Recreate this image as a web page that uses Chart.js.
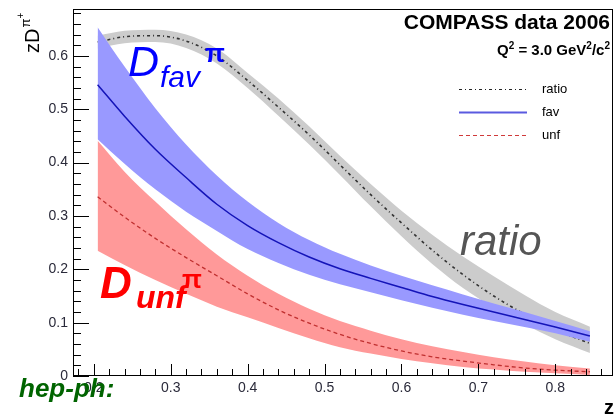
<!DOCTYPE html>
<html>
<head>
<meta charset="utf-8">
<script src="https://cdn.jsdelivr.net/npm/chart.js@4.4.1/dist/chart.umd.min.js"></script>
<style>
  html, body { margin: 0; padding: 0; background: #ffffff; }
  #wrap { width: 616px; height: 417px; position: relative; }
  canvas { display: block; }
</style>
</head>
<body>
<div id="wrap"><canvas id="c" width="616" height="417"></canvas></div>
<script>
// ---- data ----
const zValues   = [0.205, 0.24, 0.28, 0.32, 0.36, 0.40, 0.44, 0.48, 0.52, 0.56, 0.60, 0.64, 0.68, 0.72, 0.76, 0.80, 0.845];

const ratioMid  = [0.626, 0.636, 0.638, 0.628, 0.600, 0.554, 0.504, 0.452, 0.396, 0.340, 0.287, 0.236, 0.190, 0.150, 0.116, 0.087, 0.061];
const ratioUp   = [0.638, 0.647, 0.649, 0.640, 0.614, 0.568, 0.520, 0.468, 0.413, 0.360, 0.310, 0.265, 0.224, 0.187, 0.152, 0.120, 0.0925];
const ratioLow  = [0.614, 0.624, 0.626, 0.615, 0.586, 0.540, 0.488, 0.434, 0.377, 0.318, 0.262, 0.210, 0.165, 0.128, 0.097, 0.069, 0.043];

const favMid    = [0.546, 0.487, 0.425, 0.372, 0.322, 0.282, 0.250, 0.223, 0.201, 0.183, 0.166, 0.149, 0.134, 0.120, 0.106, 0.092, 0.075];
const favUp     = [0.654, 0.580, 0.502, 0.434, 0.376, 0.327, 0.287, 0.255, 0.229, 0.207, 0.188, 0.170, 0.153, 0.136, 0.120, 0.103, 0.084];
const favLow    = [0.444, 0.398, 0.350, 0.308, 0.272, 0.238, 0.212, 0.190, 0.172, 0.157, 0.142, 0.128, 0.115, 0.103, 0.092, 0.080, 0.064];

const unfMid    = [0.336, 0.298, 0.258, 0.222, 0.188, 0.154, 0.124, 0.099, 0.078, 0.061, 0.047, 0.036, 0.028, 0.021, 0.015, 0.011, 0.008];
const unfUp     = [0.441, 0.383, 0.327, 0.275, 0.228, 0.188, 0.154, 0.126, 0.103, 0.085, 0.069, 0.056, 0.045, 0.035, 0.027, 0.020, 0.014];
const unfLow    = [0.235, 0.208, 0.180, 0.154, 0.130, 0.110, 0.090, 0.071, 0.054, 0.042, 0.032, 0.024, 0.017, 0.012, 0.008, 0.005, 0.002];

const xTickLabels = ['0.2', '0.3', '0.4', '0.5', '0.6', '0.7', '0.8'];
const yTickLabels = ['0', '0.1', '0.2', '0.3', '0.4', '0.5', '0.6'];
const legendLabels = ['ratio', 'fav', 'unf'];

// ---- build ----
const pts = arr => zValues.map((z, i) => ({ x: z, y: arr[i] }));
const base = { pointRadius: 0, cubicInterpolationMode: 'monotone', borderWidth: 0 };

const datasets = [
  Object.assign({}, base, { label: 'ratioUp',  data: pts(ratioUp),  fill: '+1', backgroundColor: '#cccccc', borderColor: 'rgba(0,0,0,0)', order: 6 }),
  Object.assign({}, base, { label: 'ratioLow', data: pts(ratioLow), fill: false, borderColor: 'rgba(0,0,0,0)', order: 6 }),
  Object.assign({}, base, { label: 'ratio', data: pts(ratioMid), fill: false, borderColor: '#333333', borderWidth: 1.6, borderDash: [3, 3, 1, 3], order: 5 }),
  Object.assign({}, base, { label: 'favUp',  data: pts(favUp),  fill: '+1', backgroundColor: '#9999ff', borderColor: 'rgba(0,0,0,0)', order: 4 }),
  Object.assign({}, base, { label: 'favLow', data: pts(favLow), fill: false, borderColor: 'rgba(0,0,0,0)', order: 4 }),
  Object.assign({}, base, { label: 'fav', data: pts(favMid), fill: false, borderColor: '#1414b8', borderWidth: 1.5, order: 3 }),
  Object.assign({}, base, { label: 'unfUp',  data: pts(unfUp),  fill: '+1', backgroundColor: '#ff9999', borderColor: 'rgba(0,0,0,0)', order: 2 }),
  Object.assign({}, base, { label: 'unfLow', data: pts(unfLow), fill: false, borderColor: 'rgba(0,0,0,0)', order: 2 }),
  Object.assign({}, base, { label: 'unf', data: pts(unfMid), fill: false, borderColor: '#c03030', borderWidth: 1.3, borderDash: [4, 3], order: 1 })
];

const FONT = '"Liberation Sans", Arial, Helvetica, sans-serif';

const rootAxes = {
  id: 'rootAxes',
  afterDraw(chart) {
    const ctx = chart.ctx;
    const a = chart.chartArea;
    const xs = chart.scales.x, ys = chart.scales.y;
    ctx.save();
    // frame
    ctx.strokeStyle = '#000';
    ctx.lineWidth = 1;
    ctx.strokeRect(Math.round(a.left) + 0.5, Math.round(a.top) + 0.5, Math.round(a.right - a.left) - 1, Math.round(a.bottom - a.top) - 1);

    // x ticks
    ctx.beginPath();
    for (let k = 9; k <= 43; k++) {
      const v = k * 0.02;
      if (v < xs.min || v > xs.max) continue;
      const px = Math.round(xs.getPixelForValue(v)) + 0.5;
      const major = (k % 5 === 0);
      ctx.moveTo(px, a.bottom);
      ctx.lineTo(px, a.bottom - (major ? 12 : 7));
    }
    // y ticks
    for (let k = 0; k <= 34; k++) {
      const v = k * 0.02;
      if (v > ys.max) continue;
      const py = Math.round(ys.getPixelForValue(v)) + 0.5;
      const major = (k % 5 === 0);
      ctx.moveTo(a.left, py);
      ctx.lineTo(a.left + (major ? 16 : 8), py);
    }
    ctx.stroke();

    // tick labels
    ctx.fillStyle = '#2a2a3a';
    ctx.font = '14px ' + FONT;
    ctx.textAlign = 'center';
    ctx.textBaseline = 'alphabetic';
    xTickLabels.forEach(t => {
      ctx.fillText(t, xs.getPixelForValue(parseFloat(t)), a.bottom + 16);
    });
    ctx.textAlign = 'right';
    ctx.textBaseline = 'middle';
    yTickLabels.forEach(t => {
      ctx.fillText(t, a.left - 5, ys.getPixelForValue(parseFloat(t)));
    });

    // axis titles
    ctx.fillStyle = '#000';
    ctx.font = 'bold 20px ' + FONT;
    ctx.textAlign = 'right';
    ctx.textBaseline = 'alphabetic';
    ctx.fillText('z', 614, 414);

    // y title rotated: z D^{pi+}
    ctx.save();
    ctx.translate(39, 53);
    ctx.rotate(-Math.PI / 2);
    ctx.textAlign = 'left';
    ctx.font = '20px ' + FONT;
    ctx.fillText('zD', 0, 0);
    const wzd = ctx.measureText('zD').width;
    ctx.font = '13px ' + FONT;
    ctx.fillText('π', wzd + 1, -9);
    const wpi = ctx.measureText('π').width;
    ctx.font = '10px ' + FONT;
    ctx.fillText('+', wzd + 1 + wpi, -15);
    ctx.restore();

    // top-right texts
    ctx.textAlign = 'left';
    ctx.font = 'bold 21px ' + FONT;
    let txt = 'COMPASS data 2006';
    let w = ctx.measureText(txt).width;
    ctx.fillText(txt, 610 - w, 29);

    // Q^2 = 3.0 GeV^2/c^2
    const parts = [['Q', 15, 0], ['2', 10, -6], [' = 3.0 GeV', 15, 0], ['2', 10, -6], ['/c', 15, 0], ['2', 10, -6]];
    let total = 0;
    parts.forEach(p => { ctx.font = 'bold ' + p[1] + 'px ' + FONT; total += ctx.measureText(p[0]).width; });
    let cx = 610 - total;
    parts.forEach(p => { ctx.font = 'bold ' + p[1] + 'px ' + FONT; ctx.fillText(p[0], cx, 55 + p[2]); cx += ctx.measureText(p[0]).width; });

    // legend
    const legY = [89, 112, 135];
    const legStyles = [
      { c: '#222222', d: [3, 3, 1, 3], w: 1.2 },
      { c: '#5a5ae0', d: [], w: 2 },
      { c: '#d03a3a', d: [4, 3], w: 1.2 }
    ];
    legendLabels.forEach((lab, i) => {
      ctx.beginPath();
      ctx.strokeStyle = legStyles[i].c;
      ctx.lineWidth = legStyles[i].w;
      ctx.setLineDash(legStyles[i].d);
      ctx.moveTo(459, legY[i] + 0.5);
      ctx.lineTo(527, legY[i] + 0.5);
      ctx.stroke();
      ctx.setLineDash([]);
      ctx.fillStyle = '#000';
      ctx.font = '13px ' + FONT;
      ctx.textBaseline = 'middle';
      ctx.fillText(lab, 542, legY[i]);
    });
    ctx.textBaseline = 'alphabetic';

    // D_fav^pi
    ctx.fillStyle = '#0000ff';
    ctx.font = 'italic 43px ' + FONT;
    ctx.fillText('D', 128, 76);
    ctx.font = 'italic 30px ' + FONT;
    ctx.fillText('fav', 160, 87);
    ctx.font = 'bold 26px ' + FONT;
    ctx.fillText('π', 205, 62);

    // D_unf^pi
    ctx.fillStyle = '#ff0000';
    ctx.font = 'bold italic 44px ' + FONT;
    ctx.fillText('D', 100, 298);
    ctx.font = 'bold italic 32px ' + FONT;
    ctx.fillText('unf', 136, 308);
    ctx.font = 'bold 26px ' + FONT;
    ctx.fillText('π', 182, 288);

    // ratio label
    ctx.fillStyle = '#555555';
    ctx.font = 'italic 42px ' + FONT;
    ctx.fillText('ratio', 460, 255);

    // hep-ph:
    ctx.fillStyle = '#006400';
    ctx.font = 'bold italic 26px ' + FONT;
    ctx.fillText('hep-ph:', 19, 397);

    ctx.restore();
  }
};

new Chart(document.getElementById('c'), {
  type: 'line',
  data: { datasets: datasets },
  options: {
    responsive: false,
    devicePixelRatio: 1,
    animation: false,
    events: [],
    layout: { padding: { left: 73, right: 3, top: 9, bottom: 41 } },
    plugins: { legend: { display: false }, tooltip: { enabled: false }, filler: { propagate: false } },
    scales: {
      x: { type: 'linear', min: 0.173, max: 0.875, display: false },
      y: { type: 'linear', min: 0, max: 0.688, display: false }
    }
  },
  plugins: [rootAxes]
});
</script>
</body>
</html>
